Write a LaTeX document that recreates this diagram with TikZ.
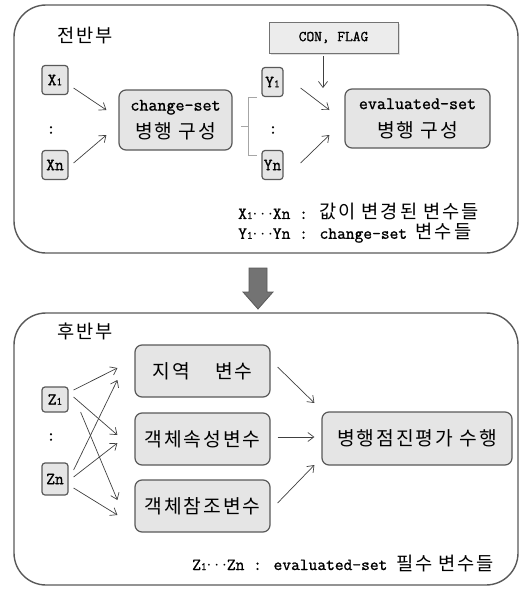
\documentclass[tikz,border=0pt]{standalone}
\usepackage{fontspec}
\setmainfont{Latin Modern Mono}[FakeBold=1.2]
\newfontfamily\kr[Scale=1.1,LetterSpace=10]{Noto Sans CJK KR}
\newcommand\subi[1]{{\fontsize{11pt}{11pt}\selectfont #1}}
\newcommand\dotsep{\raisebox{0.1ex}{$\cdots$}}
\usetikzlibrary{arrows.meta,shadows}

\tikzset{
  part/.style={draw=black!65, line width=1.4pt, rounded corners=32pt},
  varbox/.style={draw=black!65, fill=gray!20, line width=1.2pt, rounded corners=3pt,
    inner sep=1pt, minimum height=29pt, font=\fontsize{17pt}{18pt}\selectfont},
  stagebox/.style={draw=black!65, fill=gray!20, line width=1.2pt, rounded corners=7pt,
    align=center, inner sep=2pt, font=\fontsize{17.5pt}{28pt}\selectfont},
  flagbox/.style={draw=black!55, fill=gray!15, line width=0.8pt,
    minimum width=129pt, minimum height=31pt, font=\fontsize{15pt}{15pt}\selectfont,
    drop shadow={opacity=0.25, shadow xshift=1.5pt, shadow yshift=-1.5pt}},
  arr/.style={-{Straight Barb[length=6pt,width=9pt]}, draw=black!75, line width=0.7pt},
  legend/.style={anchor=west, inner sep=0pt, font=\fontsize{17pt}{18pt}\selectfont},
  title/.style={inner sep=0pt, font=\fontsize{17pt}{18pt}\selectfont\kr},
}

\begin{document}
\begin{tikzpicture}[x=1pt, y=-1pt]
\useasboundingbox (0,0) rectangle (522,590);

% First half
\draw[part] (14,5) rectangle (518,253);
\node[title] (front) at (85,36) {전반부};

\node[flagbox] (flag) at (333.5,37.5) {CON, FLAG};

\node[varbox, minimum width=26pt] (x1) at (55,80) {X\subi{1}};
\node[font=\fontsize{17pt}{18pt}\selectfont] (xdots) at (51,130) {:};
\node[varbox, minimum width=26pt] (xn) at (55,165) {Xn};

\node[stagebox, minimum width=113pt, minimum height=60pt] (chg) at (175.5,120)
  {change-set\\{\kr 병행 구성}};

\node[varbox, minimum width=21pt] (y1) at (272.5,82) {Y\subi{1}};
\node[font=\fontsize{17pt}{18pt}\selectfont] (ydots) at (273,130) {:};
\node[varbox, minimum width=21pt] (yn) at (272.5,165) {Yn};

\node[stagebox, minimum width=145pt, minimum height=59pt] (eval) at (417.5,118.5)
  {evaluated-set\\{\kr 병행 구성}};

% Bracket
\draw[gray!70, line width=0.6pt] (257,97) -- (248,97) -- (248,155) -- (257,155)
  (248,126) -- (241,126);

% Arrows
\draw[arr] ([xshift=5pt, yshift=-8pt]x1.east) -- ([xshift=-12pt, yshift=10pt]chg.west);
\draw[arr] ([xshift=5pt, yshift=2pt]xn.east) -- ([xshift=-12pt, yshift=-15pt]chg.west);
\draw[arr] ([xshift=17pt, yshift=-6pt]y1.east) -- ([xshift=-15pt, yshift=8.5pt]eval.west);
\draw[arr] ([xshift=17pt, yshift=2pt]yn.east) -- ([xshift=-15pt, yshift=-16.5pt]eval.west);
\coordinate (flagin) at (323,88);
\draw[arr] ([xshift=-10.5pt, yshift=-3pt]flag.south) -- (flagin);

% Legend
\node[legend] (legx) at (238,212) {X\subi{1}\dotsep Xn : {\kr 값이 변경된 변수들}};
\node[legend] (legy) at (238,233) {Y\subi{1}\dotsep Yn : change-set {\kr 변수들}};

% Big arrow
\filldraw[fill=black!55, draw=black!65, line width=0.8pt]
  (249,268) -- (267,268) -- (267,292) -- (273,292) -- (258,309) -- (243,292)
  -- (249,292) -- cycle;

% Second half
\draw[part] (14,313) rectangle (518,585);
\node[title] (back) at (85,331) {후반부};

\node[varbox, minimum width=26pt, minimum height=25pt] (z1) at (55,399.5) {Z\subi{1}};
\node[font=\fontsize{17pt}{18pt}\selectfont] (zdots) at (51,437) {:};
\node[varbox, minimum width=26pt, minimum height=32pt] (zn) at (55,479) {Zn};

\node[stagebox, minimum width=135pt, minimum height=52pt] (loc) at (202.5,371)
  {{\kr 지역\hspace{1.3em}변수}};
\node[stagebox, minimum width=135pt, minimum height=52pt] (attr) at (202.5,439)
  {{\kr 객체속성변수}};
\node[stagebox, minimum width=135pt, minimum height=52pt] (ref) at (202.5,506)
  {{\kr 객체참조변수}};
\node[stagebox, minimum width=190pt, minimum height=53pt] (perf) at (417,438.5)
  {{\kr 병행점진평가 수행}};

% Arrows
\draw[arr] ([xshift=5pt, yshift=9.5pt]z1.east) -- ([xshift=-17pt, yshift=3pt]loc.west);
\draw[arr] ([xshift=5pt, yshift=2.5pt]z1.east) -- ([xshift=-17pt, yshift=4pt]attr.west);
\draw[arr] ([xshift=12pt, yshift=-12.5pt]z1.east) -- ([xshift=-17pt, yshift=6pt]ref.west);
\draw[arr] ([xshift=5pt, yshift=9pt]zn.east) -- ([xshift=-17pt, yshift=-9pt]loc.west);
\draw[arr] ([xshift=5pt, yshift=2pt]zn.east) -- ([xshift=-17pt, yshift=-4pt]attr.west);
\draw[arr] ([xshift=5pt, yshift=-9pt]zn.east) -- ([xshift=-17pt, yshift=-9pt]ref.west);

\draw[arr] ([xshift=7pt, yshift=4pt]loc.east) -- ([xshift=-7pt, yshift=35.5pt]perf.west);
\draw[arr] ([xshift=7pt, yshift=2pt]attr.east) -- ([xshift=-7pt, yshift=1.5pt]perf.west);
\draw[arr] ([xshift=7pt, yshift=3pt]ref.east) -- ([xshift=-7pt, yshift=-26.5pt]perf.west);

% Legend
\node[legend] (legz) at (192,563) {Z\subi{1}\dotsep Zn : evaluated-set {\kr 필수 변수들}};
\end{tikzpicture}
\end{document}
